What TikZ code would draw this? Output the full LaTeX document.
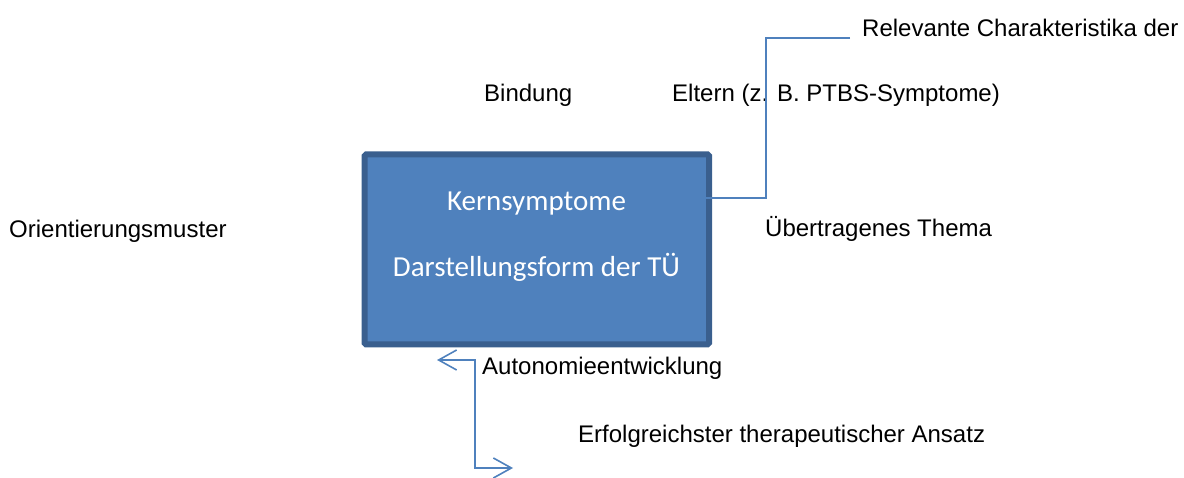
\documentclass[tikz,border=0pt]{standalone}
\usepackage{fontspec}
\setmainfont{Liberation Sans}
\newfontfamily\boxfont{Carlito}
\usetikzlibrary{arrows.meta}
\definecolor{boxfill}{HTML}{4F81BD}
\definecolor{boxline}{HTML}{3A5F8E}
\definecolor{conn}{HTML}{4F81BD}
\begin{document}
\begin{tikzpicture}[x=1pt,y=-1pt,
  lbl/.style={anchor=base west,inner sep=0pt,font=\fontsize{24}{28}\selectfont},
  boxtxt/.style={anchor=base,inner sep=0pt,text=white,font=\boxfont\fontsize{29}{34}\selectfont},
  conn/.style={draw=conn,line width=1.6pt},
  barb/.style={Straight Barb[length=18pt,width=20pt,line width=1.6pt]}]
\useasboundingbox (0,0) rectangle (1184,478);
\draw[fill=boxfill,draw=boxline,line width=6pt,rounded corners=1.5pt] (364.5,154.5) rectangle (709,344.5);
\node (box) at (536.5,249.5) {};
\node[boxtxt] (k) at (536.5,211) {Kernsymptome};
\node[boxtxt] (d) at (536.5,277) {Darstellungsform der TÜ};
\node[lbl] (rel) at (862,37) {Relevante Charakteristika der};
\node[lbl] (bind) at (484,102) {Bindung};
\node[lbl] (elt) at (672,102) {Eltern (z. B. PTBS-Symptome)};
\node[lbl] (ori) at (9,238) {Orientierungsmuster};
\node[lbl] (ueb) at (765,237) {Übertragenes Thema};
\node[lbl] (aut) at (482,374) {Autonomieentwicklung};
\node[lbl] (erf) at (578,442) {Erfolgreichster therapeutischer Ansatz};
\coordinate (t0) at (850,38);
\coordinate (t1) at (685,198);
\coordinate (b0) at (437,360);
\coordinate (b1) at (513,468);
\draw[conn,-{Straight Barb[length=18pt,width=20pt,line width=1.6pt]}] (t0) -- (766,38) -- (766,198) -- (t1);
\draw[conn,{Straight Barb[length=18pt,width=20pt,line width=1.6pt]}-{Straight Barb[length=18pt,width=20pt,line width=1.6pt]}] (b0) -- (475,360) -- (475,468) -- (b1);
\end{tikzpicture}
\end{document}
